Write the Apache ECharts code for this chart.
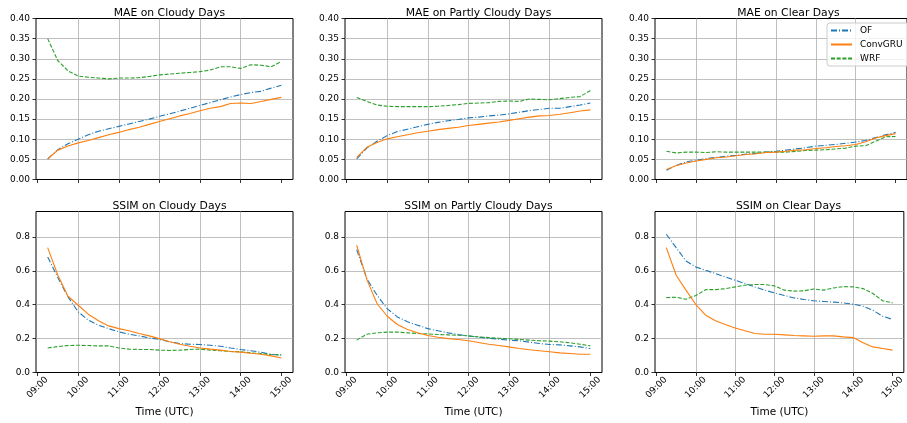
<!DOCTYPE html>
<html lang="en">
<head>
    <meta charset="UTF-8">
    <title>MAE / SSIM</title>
    <script src="https://cdn.jsdelivr.net/npm/echarts@6/dist/echarts.min.js"></script>
    <style>
        body { margin: 0; background: #fff; }
        #main { width: 907px; height: 423px; }
    </style>
</head>
<body>
<div id="main"></div>
<script type="text/javascript">
    // forecast lead times (15 min steps)
    var times = ['09:15','09:30','09:45','10:00','10:15','10:30','10:45','11:00','11:15','11:30','11:45','12:00',
                 '12:15','12:30','12:45','13:00','13:15','13:30','13:45','14:00','14:15','14:30','14:45','15:00'];
    var xTicks = ['09:00','10:00','11:00','12:00','13:00','14:00','15:00'];
    var titles = ['MAE on Cloudy Days','MAE on Partly Cloudy Days','MAE on Clear Days',
                  'SSIM on Cloudy Days','SSIM on Partly Cloudy Days','SSIM on Clear Days'];
    var names = ['OF','ConvGRU','WRF'];

    // MAE
    var maeCloudyOF   = [0.051,0.074,0.089,0.100,0.111,0.120,0.126,0.132,0.138,0.144,0.150,0.157,0.163,0.170,0.177,0.184,0.191,0.198,0.205,0.211,0.216,0.219,0.227,0.234];
    var maeCloudyGRU  = [0.051,0.073,0.083,0.091,0.097,0.104,0.111,0.117,0.124,0.130,0.137,0.144,0.151,0.158,0.164,0.171,0.177,0.181,0.189,0.190,0.189,0.194,0.199,0.204];
    var maeCloudyWRF  = [0.350,0.295,0.270,0.257,0.254,0.252,0.250,0.252,0.252,0.253,0.256,0.260,0.262,0.264,0.266,0.268,0.272,0.280,0.280,0.276,0.285,0.284,0.280,0.293];
    var maePartlyOF   = [0.051,0.078,0.095,0.109,0.119,0.125,0.131,0.137,0.142,0.146,0.149,0.153,0.155,0.158,0.160,0.163,0.167,0.171,0.174,0.177,0.177,0.181,0.185,0.190];
    var maePartlyGRU  = [0.055,0.080,0.092,0.101,0.106,0.111,0.116,0.120,0.124,0.127,0.130,0.134,0.137,0.140,0.143,0.147,0.151,0.155,0.158,0.159,0.162,0.166,0.170,0.173];
    var maePartlyWRF  = [0.204,0.194,0.185,0.182,0.181,0.181,0.181,0.181,0.182,0.184,0.186,0.189,0.190,0.191,0.194,0.195,0.194,0.200,0.199,0.198,0.201,0.204,0.206,0.221];
    var maeClearOF    = [0.023,0.035,0.044,0.048,0.052,0.055,0.058,0.060,0.063,0.065,0.068,0.070,0.073,0.076,0.079,0.083,0.085,0.087,0.090,0.093,0.097,0.104,0.111,0.117];
    var maeClearGRU   = [0.025,0.035,0.041,0.046,0.050,0.054,0.056,0.059,0.062,0.064,0.067,0.068,0.070,0.073,0.074,0.077,0.079,0.082,0.084,0.087,0.094,0.103,0.109,0.114];
    var maeClearWRF   = [0.070,0.066,0.068,0.068,0.067,0.069,0.068,0.068,0.068,0.068,0.068,0.068,0.068,0.070,0.072,0.073,0.074,0.076,0.078,0.083,0.084,0.095,0.106,0.107];
    // SSIM
    var ssimCloudyOF  = [0.682,0.560,0.446,0.358,0.309,0.279,0.259,0.240,0.226,0.216,0.204,0.195,0.181,0.171,0.167,0.165,0.161,0.155,0.145,0.136,0.128,0.120,0.106,0.104];
    var ssimCloudyGRU = [0.737,0.574,0.450,0.397,0.344,0.305,0.275,0.259,0.246,0.230,0.216,0.200,0.181,0.167,0.155,0.145,0.138,0.132,0.124,0.120,0.114,0.108,0.098,0.086];
    var ssimCloudyWRF = [0.145,0.153,0.159,0.161,0.159,0.157,0.157,0.145,0.138,0.136,0.136,0.132,0.130,0.132,0.136,0.138,0.132,0.128,0.124,0.122,0.116,0.112,0.106,0.102];
    var ssimPartlyOF  = [0.725,0.554,0.456,0.377,0.328,0.299,0.279,0.259,0.246,0.234,0.224,0.216,0.208,0.202,0.197,0.191,0.187,0.179,0.171,0.165,0.163,0.157,0.151,0.142];
    var ssimPartlyGRU = [0.751,0.548,0.407,0.332,0.283,0.254,0.234,0.218,0.208,0.200,0.195,0.187,0.177,0.167,0.159,0.151,0.142,0.134,0.128,0.122,0.116,0.112,0.108,0.108];
    var ssimPartlyWRF = [0.191,0.226,0.234,0.238,0.238,0.234,0.230,0.228,0.224,0.222,0.220,0.216,0.210,0.206,0.202,0.199,0.195,0.191,0.187,0.185,0.181,0.175,0.167,0.157];
    var ssimClearOF   = [0.816,0.737,0.658,0.623,0.603,0.584,0.564,0.544,0.525,0.505,0.486,0.470,0.454,0.440,0.431,0.423,0.419,0.415,0.411,0.403,0.391,0.367,0.332,0.313];
    var ssimClearGRU  = [0.737,0.574,0.486,0.401,0.338,0.305,0.283,0.263,0.246,0.230,0.226,0.226,0.222,0.218,0.216,0.214,0.216,0.216,0.210,0.206,0.175,0.151,0.142,0.132];
    var ssimClearWRF  = [0.442,0.444,0.432,0.454,0.489,0.489,0.495,0.505,0.515,0.519,0.519,0.511,0.486,0.480,0.482,0.493,0.486,0.499,0.507,0.505,0.495,0.466,0.423,0.411];

    var panels = [
        [maeCloudyOF, maeCloudyGRU, maeCloudyWRF],
        [maePartlyOF, maePartlyGRU, maePartlyWRF],
        [maeClearOF, maeClearGRU, maeClearWRF],
        [ssimCloudyOF, ssimCloudyGRU, ssimCloudyWRF],
        [ssimPartlyOF, ssimPartlyGRU, ssimPartlyWRF],
        [ssimClearOF, ssimClearGRU, ssimClearWRF]
    ];

    function toMin(s) { return parseInt(s.slice(0, 2), 10) * 60 + parseInt(s.slice(3), 10); }
    function pad(n) { return (n < 10 ? '0' : '') + n; }
    var tickMins = xTicks.map(toMin);
    var xMin = 537.75, xMax = 917.25;   // matplotlib 5% margins

    var colors = ['#1f77b4', '#ff7f0e', '#2ca02c'];
    var dashes = [[6, 2, 1, 2], 'solid', [4, 1.7]];
    var lefts = [36, 345, 655];
    var tops = [18.5, 211.5];
    var W = 257, H = 161;
    var font = 'DejaVu Sans';

    var grid = [], xAxis = [], yAxis = [], series = [], title = [];
    for (var p = 0; p < 6; p++) {
        var r = Math.floor(p / 3), c = p % 3;
        var isMae = r === 0;
        grid.push({left: lefts[c], top: tops[r], width: W, height: H, show: true,
                   borderColor: '#000', borderWidth: 1, backgroundColor: 'transparent'});
        title.push({text: titles[p], left: lefts[c] + W / 2, top: tops[r] - 15.5, textAlign: 'center',
                    textStyle: {fontFamily: font, fontSize: 10.8, fontWeight: 'normal', color: '#000'}});
        xAxis.push({
            type: 'value', gridIndex: p, min: xMin, max: xMax,
            name: isMae ? '' : 'Time (UTC)', nameLocation: 'middle', nameGap: 34,
            nameTextStyle: {fontFamily: font, fontSize: 10.5, color: '#000'},
            axisLine: {show: false},
            axisTick: {show: true, length: 3.5, customValues: tickMins, lineStyle: {color: '#000', width: 0.8}},
            axisLabel: {show: !isMae, customValues: tickMins, rotate: 45, margin: 15, align: 'center', verticalAlign: 'middle',
                        fontFamily: font, fontSize: 9, color: '#000',
                        formatter: function (v) { return pad(Math.floor(v / 60)) + ':' + pad(Math.round(v % 60)); }},
            splitLine: {show: true, showMinLine: false, showMaxLine: false, lineStyle: {color: '#b0b0b0', width: 0.8}}
        });
        yAxis.push({
            type: 'value', gridIndex: p, min: 0, max: isMae ? 0.4 : 0.95, interval: isMae ? 0.05 : 0.2,
            axisLine: {show: false},
            axisTick: {show: true, length: 3.5, lineStyle: {color: '#000', width: 0.8}},
            axisLabel: {margin: 6, fontFamily: font, fontSize: 9, color: '#000', showMaxLabel: isMae,
                        formatter: (function (m) { return function (v) { return v.toFixed(m ? 2 : 1); }; })(isMae)},
            splitLine: {show: true, showMinLine: false, showMaxLine: false, lineStyle: {color: '#b0b0b0', width: 0.8}}
        });
        for (var k = 0; k < 3; k++) {
            series.push({
                name: names[k], type: 'line', xAxisIndex: p, yAxisIndex: p,
                symbol: 'none', animation: false, z: 3 + (k === 1 ? 1 : 0),
                data: times.map(function (t, i) { return [toMin(t), panels[p][k][i]]; }),
                lineStyle: {color: colors[k], width: 1.1, type: dashes[k]},
                itemStyle: {color: colors[k]}
            });
        }
    }

    var myChart = echarts.init(document.getElementById('main'));
    myChart.setOption({
        animation: false,
        title: title,
        grid: grid,
        xAxis: xAxis,
        yAxis: yAxis,
        legend: {
            data: names, orient: 'vertical', left: 827, top: 23,
            itemWidth: 21, itemHeight: 10, itemGap: 5,
            padding: [3, 20, 3, 3],
            itemStyle: {opacity: 0},
            backgroundColor: 'rgba(255,255,255,0.8)', borderColor: '#cccccc', borderWidth: 1, borderRadius: 3,
            textStyle: {fontFamily: font, fontSize: 9, color: '#000', padding: [0, 0, 0, 3]}
        },
        series: series
    });
</script>
</body>
</html>
